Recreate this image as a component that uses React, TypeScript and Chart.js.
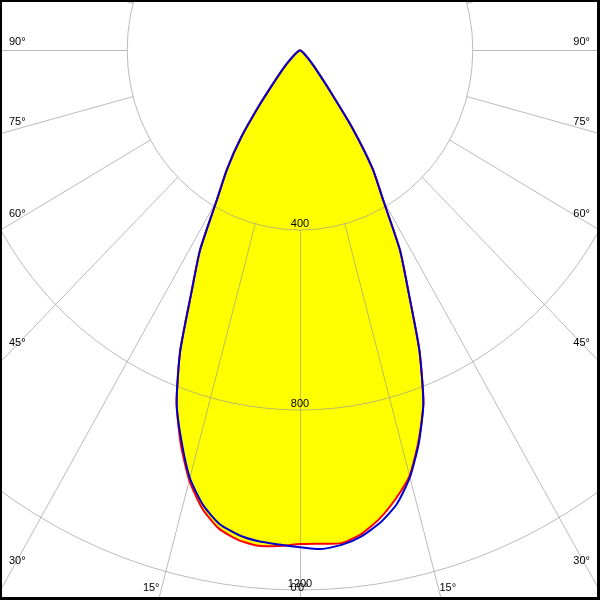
import { useEffect, useRef } from "react";
import { Chart, registerables } from "chart.js";

Chart.register(...registerables);

// Polar angle gamma (degrees from nadir)
const gammaDeg = [0, 2.5, 5, 7.5, 10, 12.5, 15, 17.5, 20, 22.5, 25, 27.5, 30, 32.5, 35, 37.5, 40, 42.5, 45, 50, 55, 60, 90, 120, 150, 180];

// Luminous intensity (cd) – C0 / C180 plane (red)
const c0 = [1098, 1098, 1100, 1085, 1058, 1022, 980, 912, 835, 722, 595, 501, 385, 313, 212, 112, 66, 42, 28, 12, 4, 0, 0, 0, 0, 0];
const c180 = [1098, 1103, 1106, 1098, 1080, 1044, 990, 918, 835, 725, 595, 501, 385, 315, 238, 152, 92, 62, 42, 17, 5, 0, 0, 0, 0, 0];
// Luminous intensity (cd) – C90 / C270 plane (blue)
const c90 = [1105, 1110, 1104, 1090, 1067, 1034, 983, 915, 835, 722, 595, 501, 385, 313, 210, 110, 65, 42, 28, 12, 4, 0, 0, 0, 0, 0];
const c270 = [1105, 1100, 1096, 1087, 1070, 1036, 985, 912, 835, 725, 595, 501, 385, 315, 240, 155, 95, 65, 45, 18, 5, 0, 0, 0, 0, 0];

const ringValues = [400, 800, 1200];
const angleTicks = [0, 15, 30, 45, 60, 75, 90];
const spokeAngles = [0, 15, 30, 45, 60, 75, 90, 105, 120, 135, 150, 165, 180];

function curve(left: number[], right: number[]) {
  const pts: { x: number; y: number }[] = [];
  for (let i = gammaDeg.length - 1; i >= 0; i--) {
    const g = (gammaDeg[i] * Math.PI) / 180;
    pts.push({ x: -left[i] * Math.sin(g), y: -left[i] * Math.cos(g) });
  }
  for (let i = 1; i < gammaDeg.length; i++) {
    const g = (gammaDeg[i] * Math.PI) / 180;
    pts.push({ x: right[i] * Math.sin(g), y: -right[i] * Math.cos(g) });
  }
  return pts;
}

const FONT = '11px "Liberation Sans", Arial, sans-serif';

const polarGrid = {
  id: "polarGrid",
  afterDatasetDraw(chart: any, args: any) {
    if (args.index !== 0) return;
    const { ctx, chartArea: a } = chart;
    const xs = chart.scales.x;
    const ys = chart.scales.y;
    const cx = xs.getPixelForValue(0);
    const cy = ys.getPixelForValue(0);
    ctx.save();
    ctx.beginPath();
    ctx.rect(a.left, a.top, a.right - a.left, a.bottom - a.top);
    ctx.clip();
    ctx.strokeStyle = "rgba(150,150,150,0.65)";
    ctx.lineWidth = 1;
    for (const r of ringValues) {
      const rx = xs.getPixelForValue(r) - cx;
      const ry = cy - ys.getPixelForValue(r);
      ctx.beginPath();
      ctx.ellipse(cx, cy, rx, ry, 0, 0, 2 * Math.PI);
      ctx.stroke();
    }
    const r0 = ringValues[0];
    const r1 = 6000;
    for (const g of spokeAngles) {
      for (const s of [-1, 1]) {
        if ((g === 0 || g === 180) && s === 1) continue;
        const t = (g * Math.PI) / 180;
        const x0 = xs.getPixelForValue(s * r0 * Math.sin(t));
        const y0 = ys.getPixelForValue(-r0 * Math.cos(t));
        const x1 = xs.getPixelForValue(s * r1 * Math.sin(t));
        const y1 = ys.getPixelForValue(-r1 * Math.cos(t));
        const off = g === 0 || g === 180 ? 0.5 : 0;
        const offY = g === 90 ? 0.5 : 0;
        ctx.beginPath();
        ctx.moveTo(x0 + off, y0 + offY);
        ctx.lineTo(x1 + off, y1 + offY);
        ctx.stroke();
      }
    }
    ctx.restore();
  },
  afterDraw(chart: any) {
    const { ctx, chartArea: a } = chart;
    const xs = chart.scales.x;
    const ys = chart.scales.y;
    const cx = xs.getPixelForValue(0);
    const cy = ys.getPixelForValue(0);
    ctx.save();
    ctx.font = FONT;
    ctx.fillStyle = "#000";
    ctx.textBaseline = "middle";
    // ring labels
    ctx.textAlign = "center";
    for (const r of ringValues) {
      ctx.fillText(String(r), cx, ys.getPixelForValue(-r) - 6);
    }
    // angle labels
    for (const g of angleTicks) {
      const t = (g * Math.PI) / 180;
      for (const s of [-1, 1]) {
        const dxp = xs.getPixelForValue(s * Math.sin(t)) - cx;
        const dyp = ys.getPixelForValue(-Math.cos(t)) - cy;
        const tSide = Math.abs(dxp) > 1e-9 ? ((s < 0 ? a.left : a.right) - cx) / dxp : Infinity;
        const tBottom = dyp > 1e-9 ? (a.bottom - cy) / dyp : Infinity;
        const text = `${g}°`;
        if (tSide <= tBottom) {
          const hitY = cy + dyp * tSide;
          const offset = 8 + (90 - g) * 0.267 + Math.max(0, 45 - g) * 0.4;
          ctx.textAlign = s < 0 ? "left" : "right";
          ctx.fillText(text, s < 0 ? a.left + 9 : a.right - 10, hitY - offset);
        } else {
          const hitX = cx + dxp * tBottom;
          ctx.textAlign = s < 0 ? "right" : "left";
          ctx.fillText(text, s < 0 ? hitX + 1 : hitX - 2, a.bottom - 12);
        }
      }
    }
    // frame
    ctx.fillStyle = "#000";
    const w = chart.width;
    const h = chart.height;
    ctx.fillRect(0, 0, w, 2);
    ctx.fillRect(0, 0, 2, h);
    ctx.fillRect(w - 3, 0, 3, h);
    ctx.fillRect(0, h - 3, w, 3);
    ctx.restore();
  },
};

export default function App() {
  const ref = useRef<HTMLCanvasElement | null>(null);
  useEffect(() => {
    document.body.style.margin = "0";
    if (!ref.current) return;
    const redPts = curve(c180, c0);
    const bluePts = curve(c270, c90);
    const chart = new Chart(ref.current, {
      type: "scatter",
      data: {
        datasets: [
          {
            label: "fill",
            data: redPts,
            showLine: true,
            fill: "shape",
            backgroundColor: "#ffff00",
            borderColor: "rgba(0,0,0,0)",
            borderWidth: 1,
            pointRadius: 0,
            tension: 0.2,
            order: 3,
          } as any,
          {
            label: "C0-C180",
            data: redPts,
            showLine: true,
            fill: false,
            borderColor: "#ff0000",
            borderWidth: 2,
            pointRadius: 0,
            tension: 0.2,
            order: 2,
          },
          {
            label: "C90-C270",
            data: bluePts,
            showLine: true,
            fill: false,
            borderColor: "#0000cc",
            borderWidth: 2,
            pointRadius: 0,
            tension: 0.2,
            order: 1,
          },
        ],
      },
      options: {
        animation: false,
        responsive: false,
        devicePixelRatio: 1,
        layout: { padding: 0 },
        plugins: { legend: { display: false }, tooltip: { enabled: false } },
        scales: {
          x: { type: "linear", min: -694.4, max: 694.4, display: false },
          y: { type: "linear", min: -1222.2, max: 111.1, display: false },
        },
      },
      plugins: [polarGrid],
    });
    return () => chart.destroy();
  }, []);
  return <canvas ref={ref} width={600} height={600} style={{ display: "block" }} />;
}
